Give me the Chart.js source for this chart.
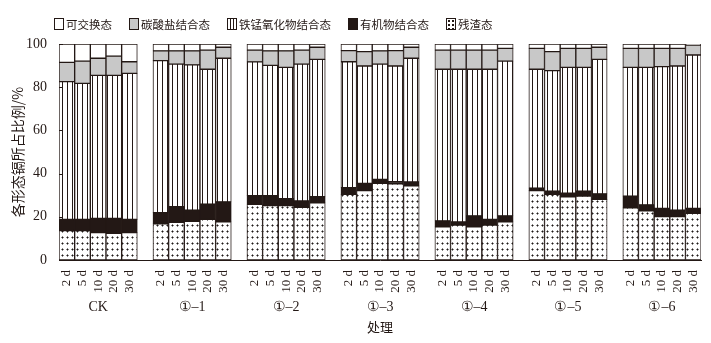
<!DOCTYPE html>
<html>
<head>
<meta charset="utf-8">
<script src="https://cdn.jsdelivr.net/npm/chart.js@4/dist/chart.umd.min.js"></script>
<style>
  html, body { margin: 0; padding: 0; background: #fff; }
  #wrap { position: relative; width: 711px; height: 343px; }
  #chart { position: absolute; left: 0; top: 0; }
  #legend {
    position: absolute; left: 54px; top: 16px;
    display: flex; gap: 17px;
    font-family: 'Noto Sans CJK SC', sans-serif; font-size: 11.5px; color: #231815;
  }
  #legend .item { display: flex; align-items: center; }
  #legend .sw {
    width: 8px; height: 10px; border: 1px solid #231815; margin-right: 2px;
  }
</style>
</head>
<body>
<div id="wrap">
  <canvas id="chart" width="711" height="343"></canvas>
  <div id="legend"></div>
</div>
<script>
// ---------- data (%) ----------
const treatments = ['CK', '①–1', '①–2', '①–3', '①–4', '①–5', '①–6'];
const days = ['2 d', '5 d', '10 d', '20 d', '30 d'];

// 残渣态
const residual = [
    13.6, 13.6, 12.7, 12.3, 12.7,
    16.7, 17.4, 17.9, 18.8, 17.7,
    25.8, 25.2, 25.2, 24.4, 26.5,
    30.4, 32.1, 35.5, 35.3, 34.3,
    15.4, 16.2, 15.4, 16.2, 17.7,
    32.1, 30.4, 29.3, 29.6, 28.1,
    24.2, 22.8, 20.1, 20.1, 21.6
];
// 有机物结合态
const organic = [
    5.2, 5.2, 6.6, 7.0, 6.1,
    5.2, 7.3, 5.2, 7.1, 9.2,
    4.0, 4.6, 3.2, 2.9, 2.8,
    3.1, 3.4, 1.8, 1.0, 1.8,
    2.7, 1.4, 5.0, 2.6, 2.7,
    1.2, 1.5, 1.6, 2.3, 2.5,
    5.4, 2.7, 3.8, 3.0, 2.3
];
// 铁锰氧化物结合态
const feMnOxide = [
    63.8, 63.0, 66.2, 66.2, 67.6,
    70.4, 66.0, 67.2, 62.4, 66.5,
    61.9, 60.3, 60.8, 63.4, 63.6,
    58.3, 54.3, 53.4, 53.5, 57.3,
    70.2, 70.7, 67.9, 69.5, 71.7,
    55.0, 55.8, 58.3, 57.3, 62.3,
    59.6, 63.7, 65.6, 66.7, 71.0
];
// 碳酸盐结合态
const carbonate = [
    8.9, 10.3, 7.9, 8.9, 5.4,
    4.5, 6.1, 6.5, 8.9, 5.1,
    5.5, 6.7, 7.6, 6.5, 5.6,
    5.1, 6.7, 6.1, 7.1, 5.1,
    8.9, 8.9, 8.9, 8.9, 5.9,
    9.7, 8.8, 8.8, 8.8, 5.6,
    8.8, 8.8, 8.5, 8.2, 4.6
];
// 可交换态
const exchangeable = [
    8.5, 7.9, 6.6, 5.6, 8.2,
    3.2, 3.2, 3.2, 2.8, 1.5,
    2.8, 3.2, 3.2, 2.8, 1.5,
    3.1, 3.5, 3.2, 3.1, 1.5,
    2.8, 2.8, 2.8, 2.8, 2.0,
    2.0, 3.5, 2.0, 2.0, 1.5,
    2.0, 2.0, 2.0, 2.0, 0.5
];

const yTicks = [0, 20, 40, 60, 80, 100];

// ---------- helpers ----------
const INK = '#231815';
const GRAY = '#c8c8c8';
const serif = "'Liberation Serif', 'Times New Roman', serif";
const cjk = "'Noto Sans CJK SC', sans-serif";

function makePattern(w, h, draw) {
    const c = document.createElement('canvas');
    c.width = w; c.height = h;
    const g = c.getContext('2d');
    g.fillStyle = '#fff';
    g.fillRect(0, 0, w, h);
    draw(g);
    return document.getElementById('chart').getContext('2d').createPattern(c, 'repeat');
}

const stripes = makePattern(5, 1, g => {
    g.fillStyle = INK;
    g.fillRect(2, 0, 1, 1);
});
const dots = makePattern(5, 6, g => {
    g.fillStyle = '#888';
    g.fillRect(1, 3, 3, 1);
    g.fillRect(2, 2, 1, 3);
    g.fillStyle = INK;
    g.fillRect(2, 3, 1, 1);
});

// 7 groups x 5 days, with one empty slot between groups
const labels = [];
treatments.forEach((t, g) => {
    days.forEach(d => labels.push(d));
    if (g < treatments.length - 1) labels.push('');
});
function spread(arr) {
    const out = [];
    treatments.forEach((t, g) => {
        days.forEach((d, i) => out.push(arr[g * days.length + i]));
        if (g < treatments.length - 1) out.push(null);
    });
    return out;
}

// bottom -> top of each stack
const series = [
    { label: '残渣态', data: residual, fill: dots, css: 'radial-gradient(circle, #231815 0.8px, transparent 1.2px) 0 0 / 4px 4px, #fff' },
    { label: '有机物结合态', data: organic, fill: INK, css: INK },
    { label: '铁锰氧化物结合态', data: feMnOxide, fill: stripes, css: 'repeating-linear-gradient(90deg, #fff 0 2px, #231815 2px 3px)' },
    { label: '碳酸盐结合态', data: carbonate, fill: GRAY, css: GRAY },
    { label: '可交换态', data: exchangeable, fill: '#fff', css: '#fff' }
];

// legend, in the figure's order
const legendEl = document.getElementById('legend');
['可交换态', '碳酸盐结合态', '铁锰氧化物结合态', '有机物结合态', '残渣态'].forEach(name => {
    const s = series.find(x => x.label === name);
    const item = document.createElement('div');
    item.className = 'item';
    const sw = document.createElement('span');
    sw.className = 'sw';
    sw.style.background = s.css;
    const tx = document.createElement('span');
    tx.textContent = name;
    item.appendChild(sw);
    item.appendChild(tx);
    legendEl.appendChild(item);
});

// group names under the day labels + inward y ticks
const extras = {
    id: 'extras',
    afterDraw(chart) {
        const { ctx, scales: { x, y }, chartArea } = chart;
        ctx.save();
        ctx.strokeStyle = INK;
        ctx.lineWidth = 1;
        yTicks.forEach(v => {
            const py = Math.round(y.getPixelForValue(v)) + 0.5;
            ctx.beginPath();
            ctx.moveTo(chartArea.left, py);
            ctx.lineTo(chartArea.left + 4, py);
            ctx.stroke();
        });
        ctx.fillStyle = INK;
        ctx.font = '14px ' + serif;
        ctx.textAlign = 'center';
        ctx.textBaseline = 'middle';
        treatments.forEach((t, g) => {
            const a = x.getPixelForValue(g * 6);
            const b = x.getPixelForValue(g * 6 + 4);
            ctx.fillText(t, (a + b) / 2, 307);
        });
        ctx.restore();
    }
};

new Chart(document.getElementById('chart'), {
    type: 'bar',
    data: {
        labels: labels,
        datasets: series.map(s => ({
            label: s.label,
            data: spread(s.data),
            backgroundColor: s.fill,
            borderColor: INK,
            borderWidth: 1,
            borderSkipped: false,
            barPercentage: 1,
            categoryPercentage: 1
        }))
    },
    options: {
        responsive: false,
        animation: false,
        layout: { padding: { top: 44, right: 9, bottom: 0, left: 0 } },
        plugins: {
            legend: { display: false },
            tooltip: { enabled: false }
        },
        scales: {
            x: {
                stacked: true,
                grid: { display: false },
                border: { display: true, color: INK, width: 1 },
                ticks: {
                    autoSkip: false,
                    minRotation: 90,
                    maxRotation: 90,
                    padding: 2,
                    color: INK,
                    font: { family: serif, size: 13 }
                },
                title: {
                    display: true,
                    text: '处理',
                    color: INK,
                    font: { family: cjk, size: 13 },
                    padding: { top: 0, bottom: 8 }
                },
                afterFit: s => { s.height = 83; }
            },
            y: {
                stacked: true,
                min: 0,
                max: 100,
                grid: { display: false },
                border: { display: true, color: INK, width: 1 },
                ticks: {
                    stepSize: 20,
                    padding: 4,
                    color: INK,
                    font: { family: serif, size: 14 }
                },
                title: {
                    display: true,
                    text: '各形态镉所占比例/%',
                    color: INK,
                    font: { family: cjk, size: 14 },
                    padding: { top: 9, bottom: 0 }
                },
                afterFit: s => { s.width = 59; }
            }
        }
    },
    plugins: [extras]
});
</script>
</body>
</html>
